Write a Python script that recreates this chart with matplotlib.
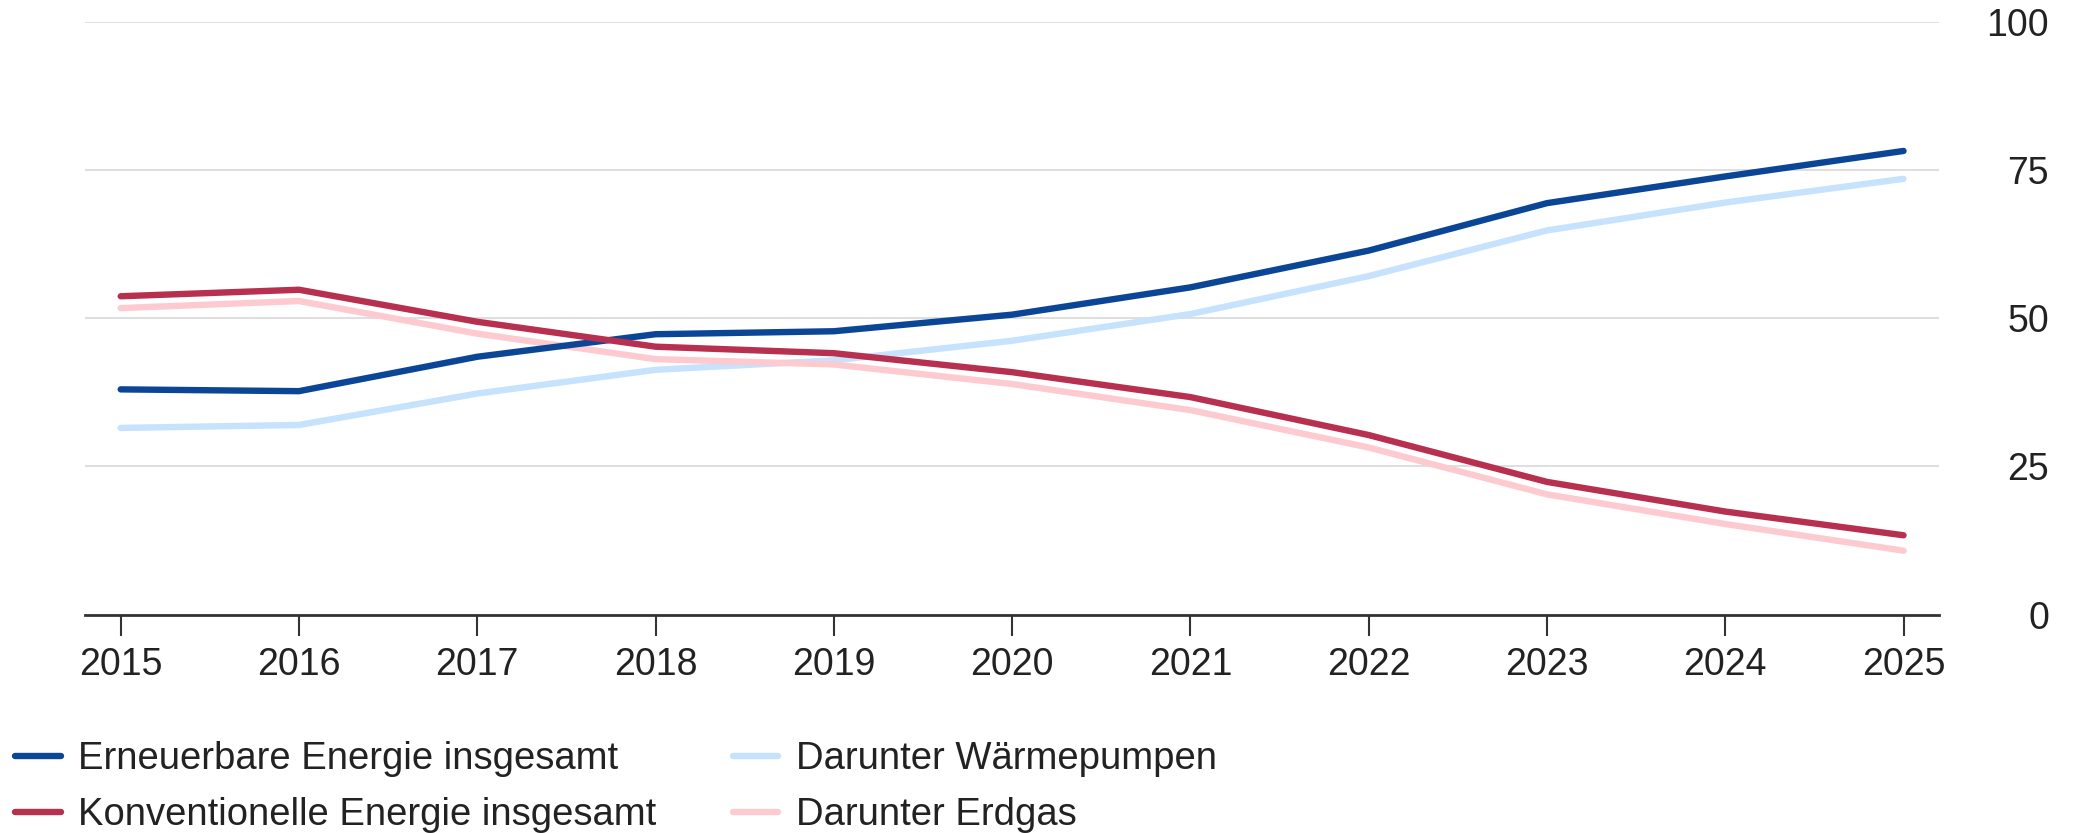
import matplotlib
matplotlib.use("Agg")
import matplotlib.pyplot as plt

plt.rcParams['font.family'] = ['Liberation Sans', 'DejaVu Sans']

years = [2015, 2016, 2017, 2018, 2019, 2020, 2021, 2022, 2023, 2024, 2025]
erneuerbar = [38.0, 37.7, 43.5, 47.3, 47.8, 50.6, 55.2, 61.4, 69.4, 73.9, 78.2]
waermepumpen = [31.5, 32.0, 37.3, 41.3, 42.9, 46.2, 50.7, 57.1, 64.8, 69.5, 73.5]
konventionell = [53.7, 54.8, 49.4, 45.2, 44.1, 40.9, 36.7, 30.3, 22.4, 17.4, 13.4]
erdgas = [51.7, 52.9, 47.4, 43.1, 42.2, 38.9, 34.5, 28.2, 20.3, 15.3, 10.8]

series = [
    ("Erneuerbare Energie insgesamt", erneuerbar, "#0b4696"),
    ("Konventionelle Energie insgesamt", konventionell, "#b8304f"),
    ("Darunter Wärmepumpen", waermepumpen, "#c6e2fc"),
    ("Darunter Erdgas", erdgas, "#fdcad0"),
]
yticks = [0, 25, 50, 75, 100]
text_col = "#222222"

fig = plt.figure(figsize=(20.74, 8.33), dpi=100)
ax = fig.add_axes([0.041, 0.262, 0.894, 0.712])

# light lines first so the dark ones sit on top
for label, vals, col in [series[2], series[3], series[0], series[1]]:
    ax.plot(years, vals, color=col, linewidth=4.6, solid_capstyle='round',
            solid_joinstyle='round', label=label)

ax.set_xlim(2014.8, 2025.2)
ax.set_ylim(0, 100)
ax.set_xticks(years)
ax.set_yticks(yticks)
ax.yaxis.tick_right()
ax.grid(axis='y', color='#d9d9d9', linewidth=1.2)
ax.set_axisbelow(True)
for s in ['top', 'left', 'right']:
    ax.spines[s].set_visible(False)
ax.spines['bottom'].set_color('#333333')
ax.spines['bottom'].set_linewidth(2)
ax.tick_params(axis='x', length=15, width=1.5, color='#333333', labelsize=27,
               labelcolor=text_col, pad=8)
ax.tick_params(axis='y', length=0, labelsize=27, labelcolor=text_col, pad=79)
for t in ax.get_yticklabels():
    t.set_ha('right')

handles, labels = ax.get_legend_handles_labels()
order = [2, 3, 0, 1]
fig.legend([handles[i] for i in order], [labels[i] for i in order],
           ncol=2, loc='center left', bbox_to_anchor=(0.0072, 0.055),
           frameon=False, fontsize=27.5, handlelength=1.2, handletextpad=0.45,
           columnspacing=2.0, labelspacing=0.52, borderaxespad=0, borderpad=0,
           labelcolor=text_col)

fig.savefig("out.png", dpi=100)
